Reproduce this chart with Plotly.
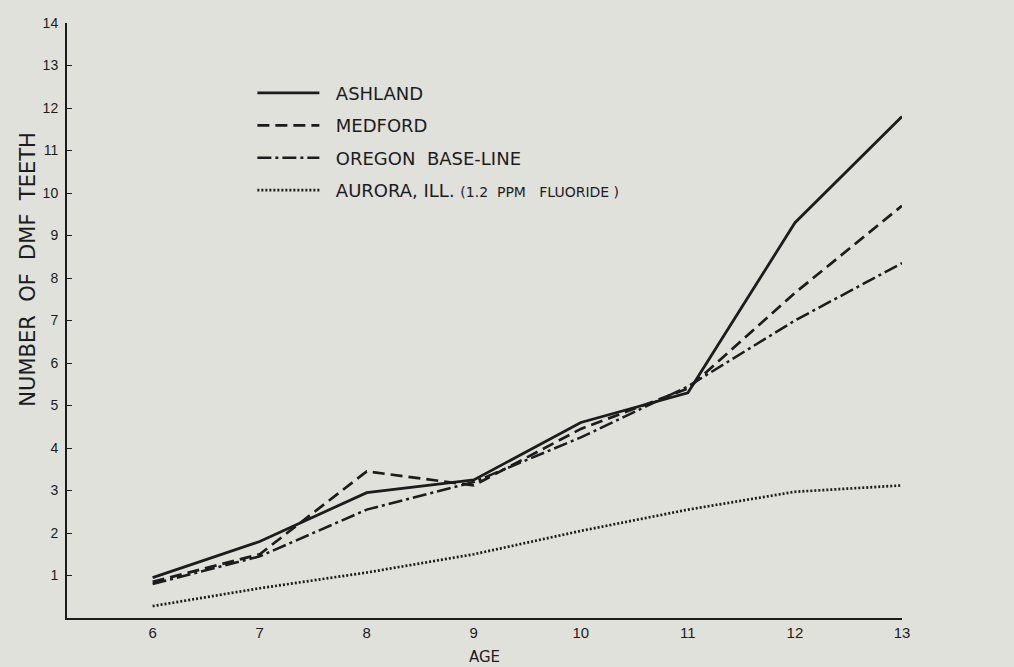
import plotly.graph_objects as go

ages = [6, 7, 8, 9, 10, 11, 12, 13]
ashland = [0.95, 1.8, 2.95, 3.25, 4.6, 5.3, 9.3, 11.8]
medford = [0.85, 1.5, 3.45, 3.12, 4.45, 5.4, 7.65, 9.7]
oregon = [0.8, 1.45, 2.55, 3.2, 4.25, 5.45, 7.0, 8.35]
aurora = [0.28, 0.7, 1.07, 1.5, 2.05, 2.55, 2.97, 3.12]

names = ["&nbsp;&nbsp;ASHLAND", "&nbsp;&nbsp;MEDFORD", "&nbsp;&nbsp;OREGON  BASE-LINE",
         "&nbsp;&nbsp;AURORA, ILL. <span style='font-size:14px'>(1.2  PPM   FLUORIDE )</span>"]
y_ticks = list(range(1, 15))
x_ticks = ages

ink = "#1c1c1c"
bg = "#e1e1dc"

fig = go.Figure()
series = [ashland, medford, oregon, aurora]
dashes = ["solid", "12px,6px", "14px,4px,3px,4px", "2px,2px"]
widths = [2.8, 2.7, 2.5, 2.7]
for i, (vals, nm, d, w) in enumerate(zip(series, names, dashes, widths)):
    fig.add_trace(go.Scatter(
        x=ages, y=vals, mode="lines", name=nm, legendgroup=f"g{i}",
        line=dict(color=ink, width=w, dash=d), showlegend=True,
    ))

fig.update_layout(
    width=1014, height=667,
    margin=dict(l=67, r=112, t=23, b=49),
    paper_bgcolor=bg, plot_bgcolor=bg,
    font=dict(family="Liberation Sans, Arial, sans-serif", color=ink),
    showlegend=True,
    legend=dict(
        x=0.222, y=0.913, xanchor="left", yanchor="top",
        bgcolor="rgba(0,0,0,0)", borderwidth=0,
        font=dict(family="DejaVu Sans, sans-serif", size=18, color=ink),
        tracegroupgap=6, itemwidth=62, traceorder="grouped",
    ),
    xaxis=dict(
        range=[5.2, 13], tickvals=x_ticks, ticktext=[str(a) for a in x_ticks],
        showgrid=False, zeroline=False, showline=True, linecolor=ink, linewidth=2,
        ticks="", tickfont=dict(family="Liberation Sans Narrow, Liberation Sans, sans-serif", size=15, color=ink),
        ticklabelstandoff=0,
    ),
    yaxis=dict(
        range=[0, 14], tickvals=y_ticks, ticktext=[str(v) for v in y_ticks],
        showgrid=False, zeroline=False, showline=True, linecolor=ink, linewidth=2,
        ticks="inside", ticklen=5, tickwidth=1, tickcolor=ink,
        tickfont=dict(family="Liberation Sans Narrow, Liberation Sans, sans-serif", size=14, color=ink),
        ticklabelstandoff=4,
    ),
    annotations=[
        dict(text="AGE", xref="paper", yref="paper", x=0.5, y=-0.066,
             xanchor="center", yanchor="middle", showarrow=False,
             font=dict(family="DejaVu Sans, sans-serif", size=15, color=ink)),
        dict(text="NUMBER  OF  DMF  TEETH", xref="paper", yref="paper",
             x=-0.047, y=0.585, xanchor="center", yanchor="middle", textangle=-90,
             showarrow=False,
             font=dict(family="DejaVu Sans, sans-serif", size=21, color=ink)),
    ],
)

fig.write_html(
    "out.html",
    config={"displayModeBar": False},
    post_script="document.body.style.margin='0';document.body.style.overflow='hidden';"
                "document.body.style.background='" + bg + "';",
)
